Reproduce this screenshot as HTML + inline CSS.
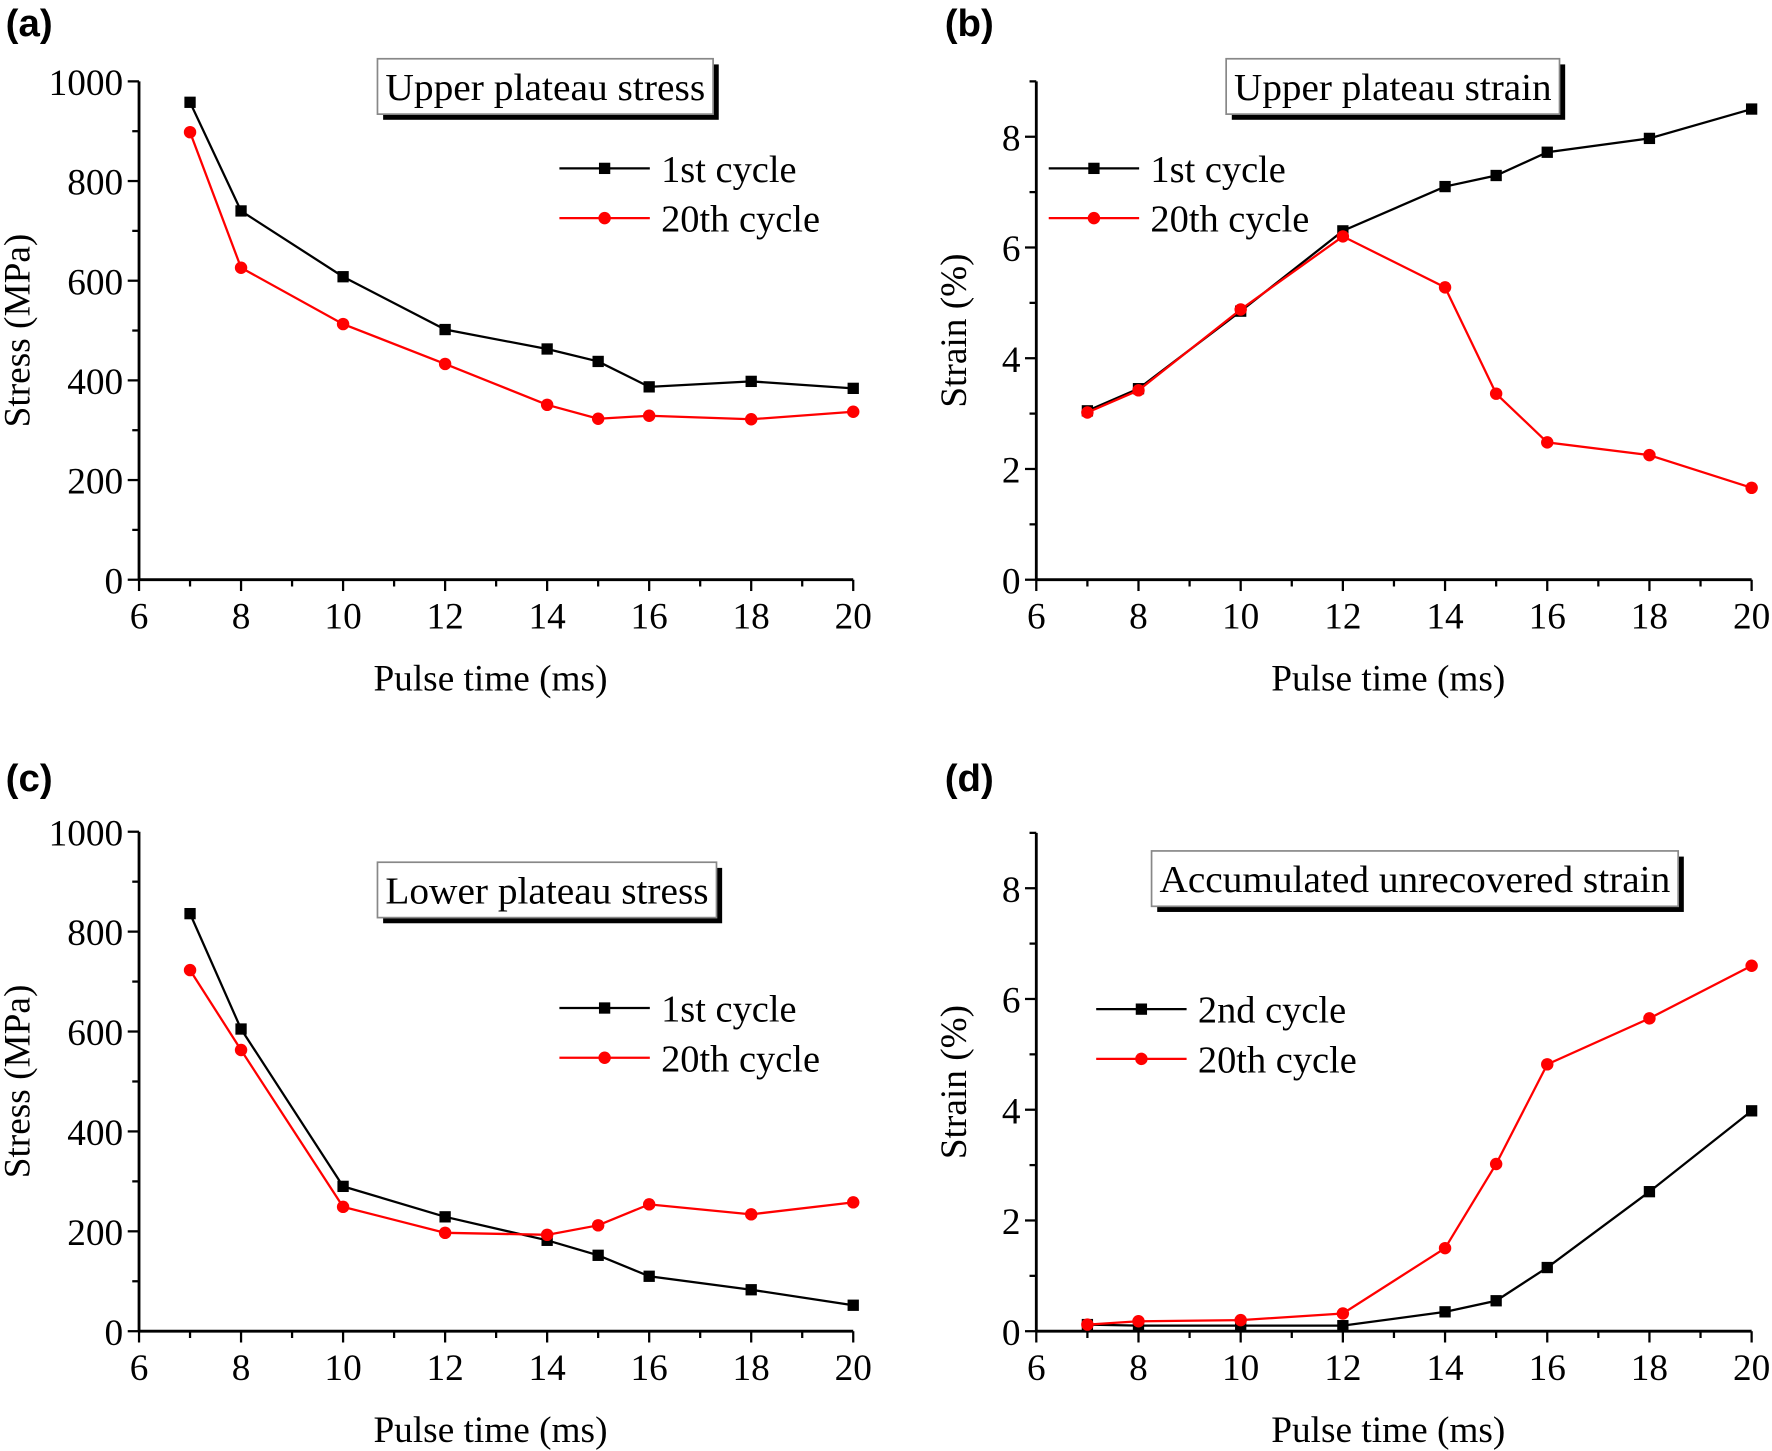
<!DOCTYPE html>
<html><head><meta charset="utf-8"><style>
html,body{margin:0;padding:0;background:#fff;}
svg{display:block;font-family:"Liberation Serif",serif;}
</style></head><body>
<svg id="s" width="1772" height="1451" viewBox="0 0 1568 1284" xmlns="http://www.w3.org/2000/svg"></svg>
<script>
const xCats=[7,8,10,12,14,15,16,18,20];
const aFirst=[958,740,608,502,463,438,387,398,384];
const aTwentieth=[898,626,513,433,351,323,329,322,337];
const bFirst=[3.05,3.45,4.85,6.3,7.1,7.3,7.72,7.97,8.5];
const bTwentieth=[3.02,3.42,4.88,6.2,5.28,3.36,2.48,2.25,1.66];
const cFirst=[836,605,290,229,182,152,110,83,52];
const cTwentieth=[723,563,249,197,193,212,254,234,258];
const dSecond=[0.12,0.1,0.1,0.1,0.35,0.55,1.15,2.52,3.98];
const dTwentieth=[0.12,0.18,0.2,0.32,1.5,3.02,4.82,5.65,6.6];
const xTicks=[6,8,10,12,14,16,18,20];
const stressTicks=[0,200,400,600,800,1000];
const strainTicks=[0,2,4,6,8];

const NS="http://www.w3.org/2000/svg";
const svg=document.getElementById('s');
function el(tag,attrs,parent,text){const e=document.createElementNS(NS,tag);for(const k in attrs)e.setAttribute(k,attrs[k]);if(text!==undefined)e.textContent=text;(parent||svg).appendChild(e);return e;}

function panel(cfg){
  const g=el('g',{});
  
  
  const L=cfg.L,R=cfg.R,B=cfg.B,T=cfg.T;
  const sx=v=>L+(v-6)/(20-6)*(R-L);
  const sy=v=>B-(v-cfg.ymin)/(cfg.ymax-cfg.ymin)*(B-T);
  const ax=el('line',{x1:L,y1:B,x2:R,y2:B,stroke:'#000','stroke-width':2.5},g);
  
  const ay=el('line',{x1:L,y1:T,x2:L,y2:B,stroke:'#000','stroke-width':2.5},g);
  
  for(let v=6;v<=20;v++){el('line',{x1:sx(v),y1:B,x2:sx(v),y2:B+(v%2===0?10:6),stroke:'#000','stroke-width':2},g);}
  xTicks.forEach(v=>{const t=el('text',{x:sx(v),y:B+43,'text-anchor':'middle','font-size':33},g,v);
    });
  const yt=cfg.yticks;const step=yt[1]-yt[0];
  for(let v=cfg.ymin;v<=cfg.ymax+1e-9;v+=step/2){const major=Math.abs((v/step)-Math.round(v/step))<1e-6;
    el('line',{x1:L,y1:sy(v),x2:L-(major?10:6),y2:sy(v),stroke:'#000','stroke-width':2},g);}
  yt.forEach(v=>{const t=el('text',{x:L-14,y:sy(v)+12,'text-anchor':'end','font-size':33},g,v);
    });
  const xl=el('text',{x:(L+R)/2-5,y:B+98,'text-anchor':'middle','font-size':33},g,'Pulse time (ms)');
  
  const yc=(T+B)/2;
  const yl=el('text',{x:cfg.ylx,y:yc,'text-anchor':'middle','font-size':33,transform:`rotate(-90 ${cfg.ylx} ${yc})`},g,cfg.ylabel);
  
  const pl=el('text',{x:cfg.lx,y:cfg.ly,'font-size':34,'font-weight':'bold','font-family':'Liberation Sans, sans-serif'},g,cfg.letter);
  
  const tb=cfg.tbox;
  el('rect',{x:tb[0]+5,y:tb[1]+5,width:tb[2],height:tb[3],fill:'#000'},g);
  const tr=el('rect',{x:tb[0],y:tb[1],width:tb[2],height:tb[3],fill:'#fff',stroke:'#888','stroke-width':1.5},g);
  
  const tt=el('text',{x:tb[0]+tb[2]/2,y:tb[1]+tb[3]/2+12,'text-anchor':'middle','font-size':34,textLength:tb[2]-14,lengthAdjust:'spacingAndGlyphs'},g,cfg.title);
  
  cfg.series.forEach((s,i)=>{
    const pts=xCats.map((x,j)=>sx(x)+','+sy(s.vals[j])).join(' ');
    const line=el('polyline',{points:pts,fill:'none',stroke:s.color,'stroke-width':2},g);
    
    xCats.forEach((x,j)=>{
      let m;
      if(s.shape==='sq') m=el('rect',{x:sx(x)-5,y:sy(s.vals[j])-5,width:10,height:10,fill:s.color},g);
      else m=el('circle',{cx:sx(x),cy:sy(s.vals[j]),r:5.5,fill:s.color},g);
      
    });
    const lx=cfg.leg[0],ly=cfg.leg[1]+i*44;
    const lg=el('g',{},g);
    
    el('line',{x1:lx,y1:ly,x2:lx+80,y2:ly,stroke:s.color,'stroke-width':2},lg);
    if(s.shape==='sq') el('rect',{x:lx+35,y:ly-5,width:10,height:10,fill:s.color},lg);
    else el('circle',{cx:lx+40,cy:ly,r:5.5,fill:s.color},lg);
    el('text',{x:lx+90,y:ly+12,'font-size':34},lg,s.label);
  });
}
panel({name:'panel-a',letter:'(a)',lx:5,ly:32,L:123,R:755,T:72,B:513,ymin:0,ymax:1000,yticks:stressTicks,ylabel:'Stress (MPa)',ylx:26,
  title:'Upper plateau stress',tbox:[334,52,297,49],leg:[495,149],
  series:[{key:'first-cycle',label:'1st cycle',vals:aFirst,color:'#000',shape:'sq'},{key:'twentieth-cycle',label:'20th cycle',vals:aTwentieth,color:'#f00',shape:'ci'}]});
panel({name:'panel-b',letter:'(b)',lx:836,ly:32,L:917,R:1550,T:72,B:513,ymin:0,ymax:9,yticks:strainTicks,ylabel:'Strain (%)',ylx:855,
  title:'Upper plateau strain',tbox:[1085,52,295,49],leg:[928,149],
  series:[{key:'first-cycle',label:'1st cycle',vals:bFirst,color:'#000',shape:'sq'},{key:'twentieth-cycle',label:'20th cycle',vals:bTwentieth,color:'#f00',shape:'ci'}]});
panel({name:'panel-c',letter:'(c)',lx:5,ly:700,L:123,R:755,T:736,B:1178,ymin:0,ymax:1000,yticks:stressTicks,ylabel:'Stress (MPa)',ylx:26,
  title:'Lower plateau stress',tbox:[334,763,300,49],leg:[495,892],
  series:[{key:'first-cycle',label:'1st cycle',vals:cFirst,color:'#000',shape:'sq'},{key:'twentieth-cycle',label:'20th cycle',vals:cTwentieth,color:'#f00',shape:'ci'}]});
panel({name:'panel-d',letter:'(d)',lx:836,ly:700,L:917,R:1550,T:737,B:1178,ymin:0,ymax:9,yticks:strainTicks,ylabel:'Strain (%)',ylx:855,
  title:'Accumulated unrecovered strain',tbox:[1019,753,466,49],leg:[970,893],
  series:[{key:'second-cycle',label:'2nd cycle',vals:dSecond,color:'#000',shape:'sq'},{key:'twentieth-cycle',label:'20th cycle',vals:dTwentieth,color:'#f00',shape:'ci'}]});
</script>
</body></html>
